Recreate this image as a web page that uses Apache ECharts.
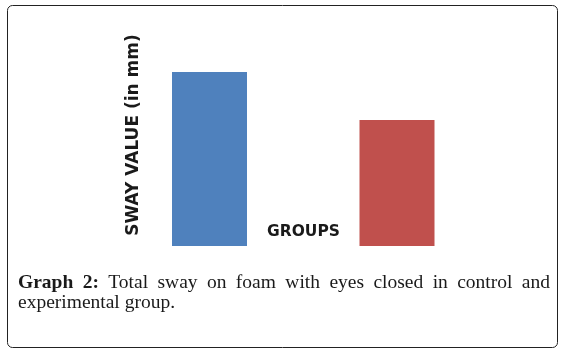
<!DOCTYPE html>
<html>
<head>
<meta charset="utf-8">
<script src="https://cdn.jsdelivr.net/npm/echarts@6/dist/echarts.min.js"></script>
<style>
  html, body { margin: 0; padding: 0; background: #fff; }
  #chart { width: 563px; height: 352px; }
</style>
</head>
<body>
<div id="chart"></div>
<script>
// data (no scale printed, heights in arbitrary mm)
var groups = ['Control', 'Experimental'];
var swayValues = [17.4, 12.6];
var barColors = ['#4F81BD', '#C0504D'];

var yAxisTitle = 'SWAY VALUE (in mm)';
var xAxisTitle = 'GROUPS';
var captionLead = ['Graph', '2:'];
var captionLine1 = ['Total', 'sway', 'on', 'foam', 'with', 'eyes', 'closed', 'in', 'control', 'and'];
var captionLine2 = 'experimental group.';

var serif = '"Liberation Serif", "Times New Roman", serif';
var captionSize = 19.5;

// lay out the justified first caption line word by word
function measure(text, bold) {
    var ctx = document.createElement('canvas').getContext('2d');
    ctx.font = (bold ? 'bold ' : '') + captionSize + 'px ' + serif;
    return ctx.measureText(text).width;
}

function captionGraphics() {
    var words = [];
    for (var i = 0; i < captionLead.length; i++) words.push({ t: captionLead[i], b: true });
    for (var j = 0; j < captionLine1.length; j++) words.push({ t: captionLine1[j], b: false });
    var left = 18, right = 550;
    var total = 0;
    for (var k = 0; k < words.length; k++) {
        words[k].w = measure(words[k].t, words[k].b);
        total += words[k].w;
    }
    var gap = (right - left - total) / (words.length - 1);
    var out = [];
    var x = left;
    for (var m = 0; m < words.length; m++) {
        out.push({
            type: 'text', left: x, top: 273,
            style: {
                text: words[m].t,
                font: (words[m].b ? 'bold ' : '') + captionSize + 'px ' + serif,
                fill: '#1a1a1a'
            }
        });
        x += words[m].w + gap;
    }
    out.push({
        type: 'text', left: left, top: 293,
        style: { text: captionLine2, font: captionSize + 'px ' + serif, fill: '#1a1a1a' }
    });
    return out;
}

var chart = echarts.init(document.getElementById('chart'));

var option = {
    animation: false,
    grid: { left: 115.75, right: 72.25, top: 46, bottom: 106 },
    xAxis: {
        type: 'category',
        data: groups,
        axisLine: { show: false },
        axisTick: { show: false },
        axisLabel: { show: false }
    },
    yAxis: {
        type: 'value',
        min: 0,
        max: 20,
        show: false
    },
    series: [{
        type: 'bar',
        barWidth: 75,
        data: swayValues.map(function (v, i) {
            return { value: v, itemStyle: { color: barColors[i] } };
        })
    }],
    graphic: [
        {
            type: 'rect',
            shape: { x: 7.5, y: 5.5, width: 550, height: 342, r: 5 },
            style: { fill: 'none', stroke: '#222', lineWidth: 1 },
            silent: true
        },
        {
            type: 'text', x: 134, y: 135, rotation: Math.PI / 2,
            style: {
                text: yAxisTitle,
                font: 'bold 17px "DejaVu Sans", sans-serif',
                fill: '#1a1a1a',
                align: 'center',
                verticalAlign: 'middle'
            }
        },
        {
            type: 'text', x: 303.5, y: 232,
            style: {
                text: xAxisTitle,
                font: 'bold 15.5px "DejaVu Sans", sans-serif',
                fill: '#1a1a1a',
                align: 'center',
                verticalAlign: 'middle'
            }
        }
    ].concat(captionGraphics())
};

chart.setOption(option);
</script>
</body>
</html>
